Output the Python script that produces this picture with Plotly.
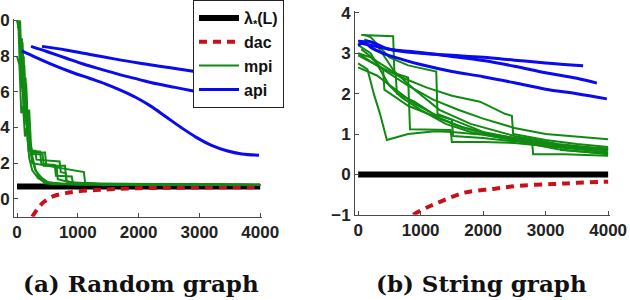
import plotly.graph_objects as go

# ---------------- data: (a) Random graph ----------------
lam_a_x = [0, 4000]
lam_a_y = [0.7, 0.7]

dac_a_x = [250, 350, 450, 600, 800, 1000, 1300, 1600, 2000, 2500, 3000, 3500, 4000]
dac_a_y = [-1.0, -0.5, -0.15, 0.15, 0.32, 0.42, 0.5, 0.55, 0.6, 0.62, 0.64, 0.65, 0.66]

mpi_a = [
    ([0, 30, 60, 90, 120, 150, 180, 210, 240, 460, 480, 650, 670, 900, 1500, 4000],
     [10, 9.5, 8, 8.8, 6, 6.5, 4, 3.2, 2.6, 2.6, 1.9, 1.85, 1.1, 0.9, 0.8, 0.78]),
    ([20, 50, 80, 110, 140, 170, 200, 230, 260, 420, 440, 790, 810, 1000, 4000],
     [10, 7, 9, 5, 6.8, 4, 5, 3, 2.5, 2.5, 1.85, 1.85, 1.0, 0.85, 0.78]),
    ([10, 40, 70, 100, 130, 160, 190, 220, 250, 1100, 1120, 1400, 4000],
     [9.6, 9.8, 6.2, 7, 4.5, 5.2, 3.5, 3.0, 2.0, 1.5, 0.9, 0.82, 0.78]),
    ([30, 60, 100, 150, 200, 250, 300, 350, 400, 460, 600, 1000, 4000],
     [10, 8, 6, 4.5, 3.3, 2.4, 1.7, 1.3, 1.05, 0.88, 0.82, 0.8, 0.78]),
    ([0, 40, 70, 100, 130, 160, 190, 220, 380, 400, 620, 640, 900, 920, 4000],
     [8, 7.5, 4.8, 5.2, 3.5, 4.0, 2.7, 2.7, 2.65, 1.95, 1.9, 1.3, 1.25, 0.88, 0.78]),
    ([50, 80, 110, 140, 170, 200, 250, 300, 400, 500, 700, 4000],
     [10, 7, 8, 4.5, 5, 3, 2.2, 1.6, 1.2, 0.95, 0.83, 0.78]),
    ([60, 90, 120, 150, 180, 210, 300, 320, 700, 720, 800, 820, 1500, 4000],
     [9, 6, 7.5, 4.2, 3.8, 2.7, 2.7, 2.2, 2.1, 1.5, 1.45, 0.95, 0.8, 0.78]),
    ([80, 110, 140, 170, 200, 250, 350, 500, 1000, 4000],
     [7, 5, 6, 3.5, 2.3, 1.6, 1.15, 0.92, 0.8, 0.78]),
]

api_a = [
    ([80, 300, 600, 900, 1200, 1450, 1700, 1950, 2200, 2450, 2700, 2950, 3200, 3450, 3700, 3980],
     [8.3, 7.95, 7.5, 7.1, 6.75, 6.45, 6.1, 5.7, 5.2, 4.6, 4.0, 3.45, 3.0, 2.7, 2.52, 2.45]),
    ([230, 500, 800, 1100, 1400, 1700, 2000, 2300, 2600, 2900, 3100],
     [8.55, 8.25, 7.9, 7.55, 7.25, 6.95, 6.7, 6.45, 6.25, 6.05, 5.92]),
    ([410, 800, 1200, 1600, 2000, 2500, 2900, 3100],
     [8.55, 8.35, 8.1, 7.85, 7.62, 7.37, 7.15, 7.05]),
]

# ---------------- data: (b) String graph ----------------
lam_b_x = [0, 4000]
lam_b_y = [0.0, 0.0]

dac_b_x = [880, 1100, 1310, 1500, 1740, 2160, 2590, 3120, 3500, 4000]
dac_b_y = [-1.0, -0.82, -0.68, -0.56, -0.44, -0.36, -0.28, -0.24, -0.21, -0.18]

mpi_b = [
    ([50, 300, 560, 580, 900, 1300, 1800, 2500, 3200, 4000],
     [3.45, 3.44, 3.42, 2.55, 2.1, 1.6, 1.25, 0.95, 0.75, 0.62]),
    ([0, 150, 250, 300, 350, 460, 800, 1230, 1500, 2000, 2500, 3000, 4000],
     [2.75, 2.6, 2.0, 1.75, 1.5, 0.85, 1.0, 1.07, 1.05, 0.98, 0.85, 0.7, 0.55]),
    ([50, 300, 600, 800, 830, 1480, 1500, 2000, 2500, 3000, 4000],
     [3.1, 2.8, 2.5, 2.4, 1.12, 1.1, 0.8, 0.8, 0.78, 0.7, 0.6]),
    ([100, 200, 500, 800, 1250, 1270, 1600, 2000, 2500, 2780, 2800, 3300, 4000],
     [3.45, 3.4, 2.9, 2.7, 2.55, 1.5, 1.3, 1.05, 0.9, 0.85, 0.5, 0.5, 0.46]),
    ([0, 400, 800, 1200, 1600, 2000, 2500, 3000, 3500, 4000],
     [3.0, 2.6, 2.2, 1.85, 1.6, 1.38, 1.15, 1.0, 0.93, 0.87]),
    ([0, 300, 700, 1100, 1500, 1950, 2350, 2460, 2480, 3000, 3500, 4000],
     [2.95, 2.7, 2.4, 2.15, 1.95, 1.8, 1.5, 1.45, 1.0, 0.85, 0.75, 0.68]),
    ([0, 200, 500, 700, 1000, 1400, 1800, 2300, 3000, 3230, 3250, 4000],
     [3.2, 3.0, 2.2, 1.9, 1.6, 1.25, 1.05, 0.9, 0.75, 0.72, 0.6, 0.52]),
    ([0, 300, 600, 900, 1200, 1500, 1520, 2000, 2600, 3200, 4000],
     [2.65, 2.45, 2.1, 1.75, 1.5, 1.35, 0.95, 0.9, 0.8, 0.62, 0.5]),
    ([100, 300, 600, 620, 900, 1300, 1700, 2200, 2800, 3500, 4000],
     [3.35, 3.2, 2.5, 2.0, 1.8, 1.4, 1.15, 0.95, 0.78, 0.66, 0.6]),
    ([0, 200, 400, 420, 800, 1200, 1600, 2100, 2700, 3300, 4000],
     [3.0, 2.9, 2.6, 2.1, 1.7, 1.45, 1.2, 1.0, 0.85, 0.7, 0.64]),
]

api_b = [
    ([0, 150, 500, 1000, 1500, 2000, 2500, 3000, 3600],
     [3.2, 3.3, 3.1, 3.0, 2.95, 2.9, 2.83, 2.76, 2.69]),
    ([50, 200, 500, 1000, 1500, 2000, 2500, 3000, 3500, 3820],
     [3.25, 3.2, 3.1, 3.02, 2.92, 2.82, 2.68, 2.52, 2.38, 2.26]),
    ([0, 100, 200, 400, 700, 1000, 1500, 2000, 2500, 3000, 3500, 3980],
     [3.3, 3.28, 3.15, 3.0, 2.85, 2.72, 2.55, 2.42, 2.27, 2.11, 2.0, 1.87]),
]

x_ticks = [0, 1000, 2000, 3000, 4000]
y_ticks_a = [0, 2, 4, 6, 8, 10]
y_ticks_b = [-1, 0, 1, 2, 3, 4]
captions = ["(a) Random graph", "(b) String graph"]
legend_names = ["λ<sub>*</sub>(L)", "dac", "mpi", "api"]

# ---------------- styles ----------------
BLACK = "#000000"
RED = "#c8101a"
GREEN = "#118a11"
BLUE = "#0a0af0"
AX = "#4a4a4a"

fig = go.Figure()


def add_panel(xa, ya, lam_x, lam_y, dac_x, dac_y, mpi, api, legend):
    fig.add_trace(go.Scatter(x=lam_x, y=lam_y, mode="lines", xaxis=xa, yaxis=ya,
                             line=dict(color=BLACK, width=6), name=legend_names[0],
                             legendgroup="lam", showlegend=legend))
    fig.add_trace(go.Scatter(x=dac_x, y=dac_y, mode="lines", xaxis=xa, yaxis=ya,
                             line=dict(color=RED, width=4, dash="8px,6px", shape="spline"),
                             name=legend_names[1], legendgroup="dac", showlegend=legend))
    for i, (mx, my) in enumerate(mpi):
        fig.add_trace(go.Scatter(x=mx, y=my, mode="lines", xaxis=xa, yaxis=ya,
                                 line=dict(color=GREEN, width=2), name=legend_names[2],
                                 legendgroup="mpi", showlegend=legend and i == 0))
    for i, (bx, by) in enumerate(api):
        fig.add_trace(go.Scatter(x=bx, y=by, mode="lines", xaxis=xa, yaxis=ya,
                                 line=dict(color=BLUE, width=3, shape="spline"), name=legend_names[3],
                                 legendgroup="api", showlegend=legend and i == 0))


add_panel("x", "y", lam_a_x, lam_a_y, dac_a_x, dac_a_y, mpi_a, api_a, True)
add_panel("x2", "y2", lam_b_x, lam_b_y, dac_b_x, dac_b_y, mpi_b, api_b, False)

W, H = 630, 300
tickfont = dict(family="Liberation Sans", size=17, color="#222222", weight="bold")
axcommon = dict(showline=True, linecolor=AX, linewidth=1, ticks="inside", ticklen=4,
                tickcolor=AX, showgrid=False, zeroline=False, tickfont=tickfont,
                automargin=False)

fig.update_layout(
    width=W, height=H,
    margin=dict(l=0, r=0, t=0, b=0),
    paper_bgcolor="white", plot_bgcolor="white",
    showlegend=True,
    legend=dict(x=193 / W, y=1.02, xanchor="left", yanchor="top",
                bgcolor="white", bordercolor="#222222", borderwidth=1,
                font=dict(family="Liberation Sans", size=16, color="#111111", weight="bold"),
                itemwidth=40, tracegroupgap=0),
    xaxis=dict(domain=[14 / W, 262 / W], range=[-50, 4030], tickvals=x_ticks, anchor="y", **axcommon),
    yaxis=dict(domain=[1 - 215 / H, 1 - 13 / H], range=[-1, 10.1], tickvals=y_ticks_a, anchor="x", **axcommon),
    xaxis2=dict(domain=[355 / W, 610 / W], range=[-50, 4030], tickvals=x_ticks, anchor="y2", **axcommon),
    yaxis2=dict(domain=[1 - 213 / H, 1 - 5 / H], range=[-1, 4.05], tickvals=y_ticks_b, anchor="x2", **axcommon),
    annotations=[
        dict(text="<b>" + captions[0] + "</b>", x=141 / W, y=1 - 283 / H, xref="paper", yref="paper",
             showarrow=False, xanchor="center", yanchor="middle",
             font=dict(family="DejaVu Serif", size=23, color="#111111")),
        dict(text="<b>" + captions[1] + "</b>", x=482 / W, y=1 - 283 / H, xref="paper", yref="paper",
             showarrow=False, xanchor="center", yanchor="middle",
             font=dict(family="DejaVu Serif", size=23, color="#111111")),
    ],
)

fig.write_html("out.html")
